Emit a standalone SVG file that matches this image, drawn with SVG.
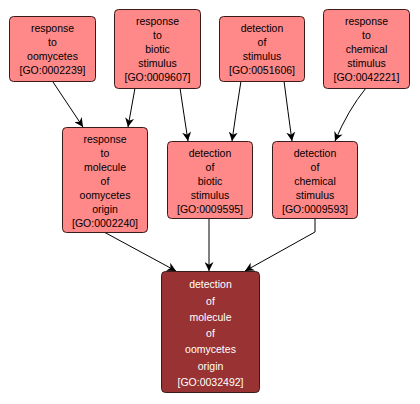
<svg xmlns="http://www.w3.org/2000/svg" width="420" height="404" viewBox="0 0 420 404">
<defs>
<style>
.n rect{fill:#ff8888;stroke:#3a1a1a;stroke-width:1}
.d rect{fill:#993333;stroke:#3a1a1a;stroke-width:1}
text{font-family:"Liberation Sans",Arial,sans-serif;font-size:10.5px;text-anchor:middle;fill:#000}
.d text{fill:#ffffff}
.e path{fill:none;stroke:#000;stroke-width:1;marker-end:url(#ah)}
</style>
<marker id="ah" viewBox="0 0 10 10" refX="10" refY="5" markerWidth="9" markerHeight="9" markerUnits="userSpaceOnUse" orient="auto">
<path d="M0,0 L10,5 L0,10 L3,5 z" fill="#000"/>
</marker>
</defs>
<rect width="420" height="404" fill="#ffffff"/>
<g class="e" id="edges">
<path d="M53,82 L83,127"/>
<path d="M135,88 L128,127"/>
<path d="M180,88 Q184,115 188,141"/>
<path d="M241,81 Q236,112 232,141"/>
<path d="M284,81 Q288,112 292,141"/>
<path d="M366,88 Q348,110 335,141"/>
<path d="M104,232 L176,271"/>
<path d="M209,218 L209,271"/>
<path d="M315,218 L315,232 L245,271"/>
</g>
<g class="n" id="GO0002239">
<rect x="9.5" y="16.5" width="86" height="65" rx="4"/>
<text x="52.5" y="32">response</text>
<text x="52.5" y="46">to</text>
<text x="52.5" y="60">oomycetes</text>
<text x="52.5" y="74">[GO:0002239]</text>
</g>
<g class="n" id="GO0009607">
<rect x="114.5" y="9.5" width="86" height="79" rx="4"/>
<text x="157.5" y="25">response</text>
<text x="157.5" y="39">to</text>
<text x="157.5" y="53">biotic</text>
<text x="157.5" y="67">stimulus</text>
<text x="157.5" y="81">[GO:0009607]</text>
</g>
<g class="n" id="GO0051606">
<rect x="219.5" y="16.5" width="85" height="65" rx="4"/>
<text x="262" y="32">detection</text>
<text x="262" y="46">of</text>
<text x="262" y="60">stimulus</text>
<text x="262" y="74">[GO:0051606]</text>
</g>
<g class="n" id="GO0042221">
<rect x="323.5" y="9.5" width="86" height="79" rx="4"/>
<text x="366.5" y="25">response</text>
<text x="366.5" y="39">to</text>
<text x="366.5" y="53">chemical</text>
<text x="366.5" y="67">stimulus</text>
<text x="366.5" y="81">[GO:0042221]</text>
</g>
<g class="n" id="GO0002240">
<rect x="62.5" y="127.5" width="85" height="105" rx="4"/>
<text x="105" y="143">response</text>
<text x="105" y="157">to</text>
<text x="105" y="171">molecule</text>
<text x="105" y="185">of</text>
<text x="105" y="199">oomycetes</text>
<text x="105" y="213">origin</text>
<text x="105" y="227">[GO:0002240]</text>
</g>
<g class="n" id="GO0009595">
<rect x="167.5" y="141.5" width="85" height="77" rx="4"/>
<text x="210" y="157">detection</text>
<text x="210" y="171">of</text>
<text x="210" y="185">biotic</text>
<text x="210" y="199">stimulus</text>
<text x="210" y="213">[GO:0009595]</text>
</g>
<g class="n" id="GO0009593">
<rect x="272.5" y="141.5" width="85" height="77" rx="4"/>
<text x="315" y="157">detection</text>
<text x="315" y="171">of</text>
<text x="315" y="185">chemical</text>
<text x="315" y="199">stimulus</text>
<text x="315" y="213">[GO:0009593]</text>
</g>
<g class="d" id="GO0032492">
<rect x="161.5" y="271.5" width="98" height="121" rx="4"/>
<text x="210.5" y="288">detection</text>
<text x="210.5" y="305">of</text>
<text x="210.5" y="321">molecule</text>
<text x="210.5" y="337">of</text>
<text x="210.5" y="353">oomycetes</text>
<text x="210.5" y="370">origin</text>
<text x="210.5" y="386">[GO:0032492]</text>
</g>
</svg>
